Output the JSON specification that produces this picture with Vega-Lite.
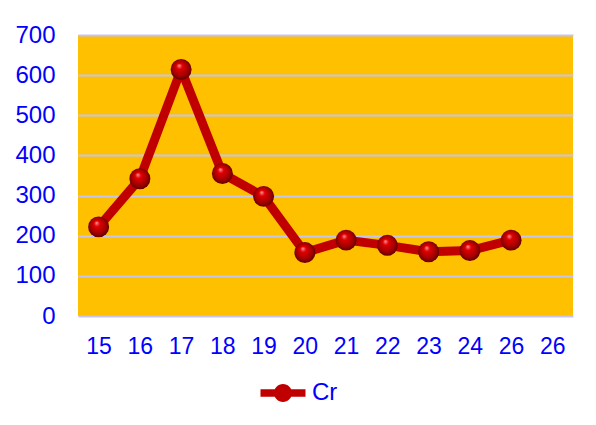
{
  "$schema": "https://vega.github.io/schema/vega-lite/v6.json",
  "width": 495,
  "height": 281,
  "autosize": {"type": "none"},
  "padding": {"left": 78, "top": 35, "right": 23, "bottom": 109},
  "background": "#ffffff",
  "config": {
    "view": {"fill": "#ffc000", "stroke": null},
    "font": "Liberation Sans"
  },
  "data": {
    "values": [
      {"t": "15", "series": "Cr", "v": 222},
      {"t": "16", "series": "Cr", "v": 342},
      {"t": "17", "series": "Cr", "v": 614},
      {"t": "18", "series": "Cr", "v": 355},
      {"t": "19", "series": "Cr", "v": 298},
      {"t": "20", "series": "Cr", "v": 158},
      {"t": "21", "series": "Cr", "v": 189},
      {"t": "22", "series": "Cr", "v": 176},
      {"t": "23", "series": "Cr", "v": 160},
      {"t": "24", "series": "Cr", "v": 163},
      {"t": "26", "series": "Cr", "v": 189}
    ]
  },
  "encoding": {
    "x": {
      "field": "t", "type": "ordinal",
      "scale": {"domain": ["15","16","17","18","19","20","21","22","23","24","26","26_"], "paddingInner": 0, "paddingOuter": 0},
      "axis": {
        "title": null, "labelAngle": 0, "labelFontSize": 23, "labelColor": "#0000ff",
        "labelPadding": 19, "domain": false, "ticks": false, "grid": false,
        "labelExpr": "replace(datum.label, '_', '')"
      }
    },
    "y": {
      "field": "v", "type": "quantitative",
      "scale": {"domain": [0, 700], "nice": false},
      "axis": {
        "title": null, "values": [0,100,200,300,400,500,600,700], "labelFontSize": 24, "labelColor": "#0000ff",
        "labelPadding": 23, "domain": false, "ticks": false, "grid": true, "gridColor": "#c4c4f2", "gridWidth": 2, "gridOpacity": 1
      }
    }
  },
  "layer": [
    {
      "mark": {"type": "line", "strokeWidth": 9, "strokeJoin": "round", "strokeCap": "round"},
      "encoding": {
        "color": {
          "field": "series", "type": "nominal",
          "scale": {"range": ["#c00000"]},
          "legend": {
            "title": null, "orient": "none", "legendX": 190, "legendY": 343,
            "labelFontSize": 24, "labelColor": "#0000ff", "labelOffset": 14,
            "symbolType": "M -1.5 -0.25 L 1.5 -0.25 L 1.5 0.25 L -1.5 0.25 Z M 0.6 0 A 0.6 0.6 0 1 1 -0.6 0 A 0.6 0.6 0 1 1 0.6 0 Z",
            "symbolSize": 900, "symbolFillColor": "#c00000", "symbolStrokeColor": "#c00000", "symbolStrokeWidth": 0
          }
        }
      }
    },
    {
      "mark": {
        "type": "point", "filled": true, "size": 440, "opacity": 1,
        "fill": {
          "gradient": "radial", "x1": 0.4, "y1": 0.3, "r1": 0, "x2": 0.5, "y2": 0.5, "r2": 0.55,
          "stops": [
            {"offset": 0, "color": "#ff9a9a"},
            {"offset": 0.25, "color": "#e00000"},
            {"offset": 0.7, "color": "#a00000"},
            {"offset": 1, "color": "#500000"}
          ]
        }
      }
    }
  ]
}
